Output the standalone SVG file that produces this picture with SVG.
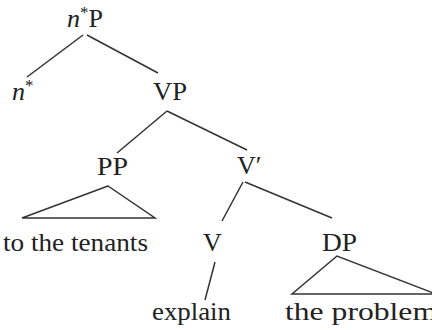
<svg xmlns="http://www.w3.org/2000/svg" width="432" height="330" viewBox="0 0 432 330">
<style>
text{font-family:"Liberation Serif","DejaVu Serif","Times New Roman",serif;font-size:26px;fill:#222}
.it{font-style:italic}
.sup{font-size:17px}
line,polygon{stroke:#333;stroke-width:1.5;fill:none}
</style>
<rect width="432" height="330" fill="#fff"/>
<g id="connectors">
<line x1="83" y1="35" x2="27" y2="77"/>
<line x1="87" y1="35" x2="158" y2="73"/>
<line x1="167" y1="111" x2="117" y2="153"/>
<line x1="167" y1="111" x2="247" y2="150"/>
<polygon points="108,186 22,218 155,218"/>
<line x1="243" y1="182" x2="222" y2="221"/>
<line x1="245" y1="182" x2="332" y2="218"/>
<line x1="215" y1="262" x2="205" y2="300"/>
<polygon points="337,256 292,294 436,294"/>
</g>
<g id="nP"><text x="67" y="27" font-family="Liberation Serif, serif"><tspan class="it">n</tspan><tspan class="sup" dy="-9">*</tspan><tspan dy="9">P</tspan></text></g>
<g id="n"><text x="12" y="100" font-family="Liberation Serif, serif"><tspan class="it">n</tspan><tspan class="sup" dy="-9">*</tspan></text></g>
<g id="VP"><text x="153" y="100" font-family="Liberation Serif, serif" textLength="34" lengthAdjust="spacingAndGlyphs">VP</text></g>
<g id="PP"><text x="97" y="175" font-family="Liberation Serif, serif" textLength="31" lengthAdjust="spacingAndGlyphs">PP</text></g>
<g id="Vbar"><text x="237" y="174" font-family="Liberation Serif, serif">V′</text></g>
<g id="tenants"><text x="3" y="251" font-family="Liberation Serif, serif" textLength="145" lengthAdjust="spacingAndGlyphs">to the tenants</text></g>
<g id="V"><text x="203" y="251" font-family="Liberation Serif, serif">V</text></g>
<g id="DP"><text x="322" y="251" font-family="Liberation Serif, serif" textLength="35" lengthAdjust="spacingAndGlyphs">DP</text></g>
<g id="explain"><text x="152" y="320" font-family="Liberation Serif, serif" textLength="79" lengthAdjust="spacingAndGlyphs">explain</text></g>
<g id="problem"><text x="285" y="320" font-family="Liberation Serif, serif" textLength="152" lengthAdjust="spacingAndGlyphs">the problem</text></g>
</svg>
